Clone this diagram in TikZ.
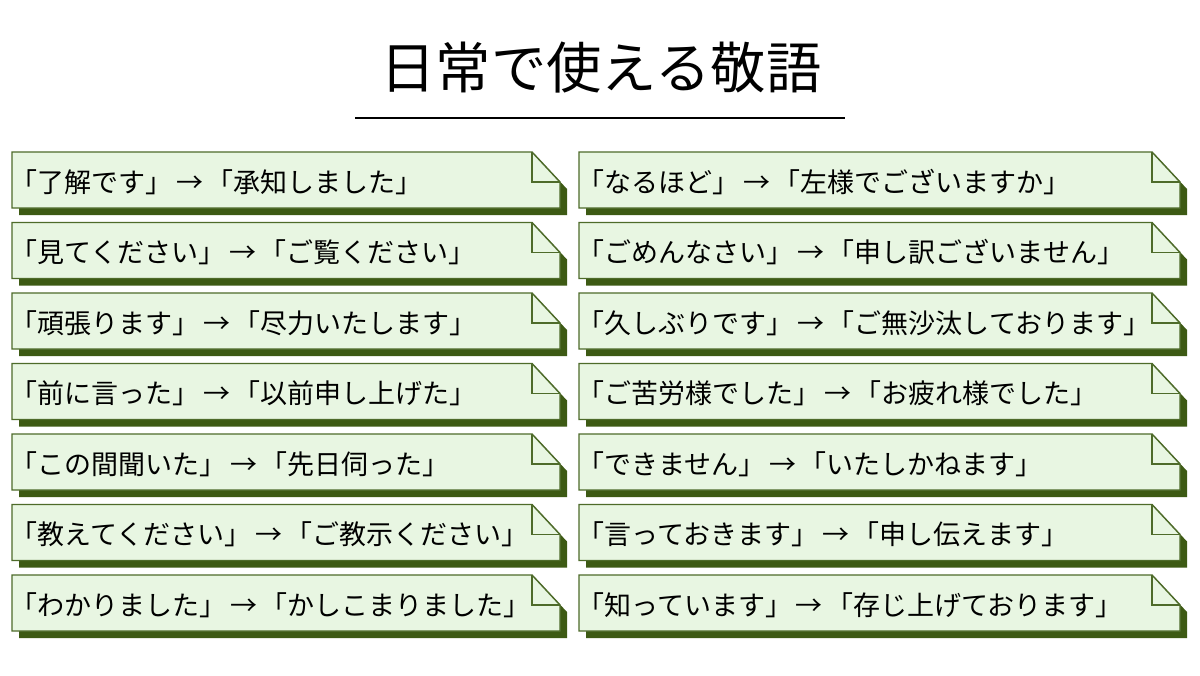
\documentclass[tikz,border=0pt]{standalone}
\usepackage{fontspec}
\setmainfont{Noto Sans CJK JP}
\definecolor{boxfill}{HTML}{E8F6E2}
\definecolor{boxline}{HTML}{4E6B2A}
\definecolor{boxshadow}{HTML}{3D5A14}
\tikzset{
  boxtext/.style={anchor=west,inner sep=0pt,font=\fontsize{20.25pt}{23pt}\selectfont,text=black},
  titletext/.style={inner sep=0pt,font=\fontsize{41.5pt}{46pt}\selectfont,text=black},
  boxshape/.style={fill=boxfill,draw=boxline,line width=1.1pt,line join=miter},
}
\newcommand\arr{\hspace{0.13em}→\hspace{0.13em}}
\newcommand\kbox[5]{% name, x0, x1, y0, text
  \fill[boxshadow] (#2+7,#4+7) -- (#3+7-28,#4+7) -- (#3+7,#4+7+30) -- (#3+7,#4+7+56) -- (#2+7,#4+7+56) -- cycle;
  \draw[boxshape] (#2,#4) -- (#3-28,#4) -- (#3,#4+30) -- (#3,#4+56) -- (#2,#4+56) -- cycle;
  \draw[boxline,line width=1.1pt] (#3-28,#4) -- (#3-28,#4+30) -- (#3,#4+30);
  \node[boxtext] (#1) at (#2-1.5,#4+30) {#5};
}
\begin{document}
\begin{tikzpicture}[x=0.75pt,y=-0.75pt]
\useasboundingbox[fill=white] (0,0) rectangle (1200,675);
\node[titletext] (title) at (601,68) {日常で使える敬語};
\coordinate (tl) at (355,118);
\coordinate (tr) at (845,118);
\draw[line width=2.2pt,black] (tl) -- (tr);
\kbox{l1}{12}{560}{152}{「了解です」\arr「承知しました」}
\kbox{l2}{12}{560}{222.5}{「見てください」\arr「ご覧ください」}
\kbox{l3}{12}{560}{293}{「頑張ります」\arr「尽力いたします」}
\kbox{l4}{12}{560}{363.5}{「前に言った」\arr「以前申し上げた」}
\kbox{l5}{12}{560}{434}{「この間聞いた」\arr「先日伺った」}
\kbox{l6}{12}{560}{504.5}{「教えてください」\arr「ご教示ください」}
\kbox{l7}{12}{560}{575}{「わかりました」\arr「かしこまりました」}
\kbox{r1}{579}{1180}{152}{「なるほど」\arr「左様でございますか」}
\kbox{r2}{579}{1180}{222.5}{「ごめんなさい」\arr「申し訳ございません」}
\kbox{r3}{579}{1180}{293}{「久しぶりです」\arr「ご無沙汰しております」}
\kbox{r4}{579}{1180}{363.5}{「ご苦労様でした」\arr「お疲れ様でした」}
\kbox{r5}{579}{1180}{434}{「できません」\arr「いたしかねます」}
\kbox{r6}{579}{1180}{504.5}{「言っておきます」\arr「申し伝えます」}
\kbox{r7}{579}{1180}{575}{「知っています」\arr「存じ上げております」}
\end{tikzpicture}
\end{document}
